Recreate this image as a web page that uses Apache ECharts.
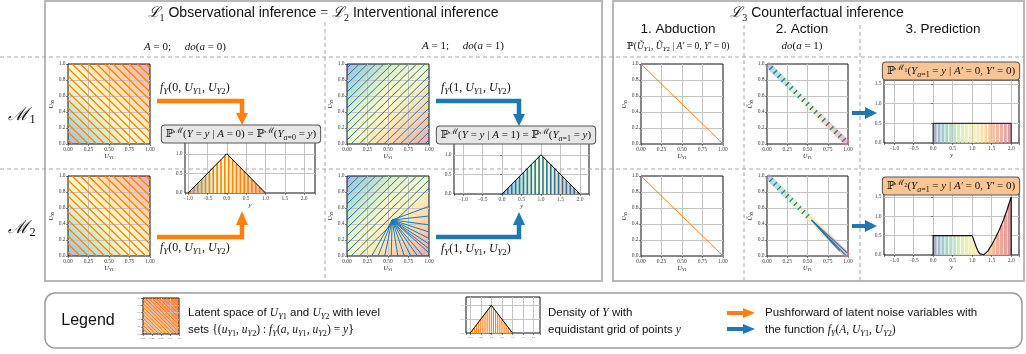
<!DOCTYPE html>
<html>
<head>
<meta charset="utf-8">
<script src="https://cdn.jsdelivr.net/npm/echarts@6/dist/echarts.min.js"></script>
<style>
  html, body { margin: 0; padding: 0; background: #fff; }
  #main { width: 1026px; height: 354px; }
</style>
</head>
<body>
<div id="main"></div>
<script>
// level values of the latent level sets
const levelsA0 = [0.05, 0.15, 0.25, 0.35, 0.45, 0.55, 0.65, 0.75, 0.85, 0.95, 1.05, 1.15, 1.25, 1.35, 1.45, 1.55, 1.65, 1.75, 1.85, 1.95]
const levelsA1 = [-0.95, -0.85, -0.75, -0.65, -0.55, -0.45, -0.35, -0.25, -0.15, -0.05, 0.05, 0.15, 0.25, 0.35, 0.45, 0.55, 0.65, 0.75, 0.85, 0.95]
const levelsA1M2 = [0.95, 0.85, 0.75, 0.65, 0.55, 0.45, 0.35, 0.25, 0.15, 0.05, -0.05, -0.15]
const fanCenter = [0.55, 0.45]
const fanEnds = [[1, 0.62], [1, 0.5], [1, 0.39], [1, 0.3], [1, 0.22], [1, 0.15], [1, 0.09], [1, 0.04],
  [0.3, 0], [0.38, 0], [0.46, 0], [0.54, 0], [0.62, 0], [0.7, 0], [0.78, 0], [0.86, 0], [0.93, 0]]

// densities
const gridYA0 = [-0.95, -0.85, -0.75, -0.65, -0.55, -0.45, -0.35, -0.25, -0.15, -0.05, 0.05, 0.15, 0.25, 0.35, 0.45, 0.55, 0.65, 0.75, 0.85, 0.95]
const densA0 = [0.05, 0.15, 0.25, 0.35, 0.45, 0.55, 0.65, 0.75, 0.85, 0.95, 0.95, 0.85, 0.75, 0.65, 0.55, 0.45, 0.35, 0.25, 0.15, 0.05]
const gridYA1 = [0.05, 0.15, 0.25, 0.35, 0.45, 0.55, 0.65, 0.75, 0.85, 0.95, 1.05, 1.15, 1.25, 1.35, 1.45, 1.55, 1.65, 1.75, 1.85, 1.95]
const densA1 = [0.05, 0.15, 0.25, 0.35, 0.45, 0.55, 0.65, 0.75, 0.85, 0.95, 0.95, 0.85, 0.75, 0.65, 0.55, 0.45, 0.35, 0.25, 0.15, 0.05]
const triangleA0 = [[-1, 0], [0, 1], [1, 0]]
const triangleA1 = [[0, 0], [1, 1], [2, 0]]

// counterfactual
const abductionLine = [[0, 1], [1, 0]]
const actionDashU1 = [0.05, 0.1, 0.15, 0.2, 0.25, 0.3, 0.35, 0.4, 0.45, 0.5, 0.55, 0.6, 0.65, 0.7, 0.75, 0.8, 0.85, 0.9, 0.95]
const actionDashU1M2 = [0.05, 0.1, 0.15, 0.2, 0.25, 0.3, 0.35, 0.4, 0.45, 0.5]
const actionFanEnds = [[0.97, 0.01], [0.99, 0.04], [0.9, 0.06], [0.84, 0.13], [0.76, 0.22]]
const predGrid = [0.05, 0.15, 0.25, 0.35, 0.45, 0.55, 0.65, 0.75, 0.85, 0.95, 1.05, 1.15, 1.25, 1.35, 1.45, 1.55, 1.65, 1.75, 1.85, 1.95]
const predM1 = [0.5, 0.5, 0.5, 0.5, 0.5, 0.5, 0.5, 0.5, 0.5, 0.5, 0.5, 0.5, 0.5, 0.5, 0.5, 0.5, 0.5, 0.5, 0.5, 0.5]
const predM2 = [0.5, 0.5, 0.5, 0.5, 0.5, 0.5, 0.5, 0.5, 0.5, 0.5, 0.36, 0.1, 0.0, 0.04, 0.17, 0.36, 0.56, 0.78, 1.03, 1.33]
const predM1Outline = [[0, 0], [0, 0.5], [2, 0.5], [2, 0]]
const predM2Outline = [[0, 0], [0, 0.5], [1, 0.5], [1.05, 0.36], [1.1, 0.22], [1.15, 0.1], [1.2, 0.03], [1.25, 0], [1.3, 0.01],
  [1.4, 0.1], [1.5, 0.26], [1.6, 0.45], [1.7, 0.66], [1.8, 0.9], [1.9, 1.18], [2, 1.5], [2, 0]]

const orange = '#ff7f0e'
const blue = '#1f77b4'
const serif = '"Liberation Serif", "DejaVu Serif", serif'
const sans = '"Liberation Sans", "DejaVu Sans", sans-serif'
const spectral = ['#adb6dc', '#b6dcd2', '#e2f1c8', '#fcf9c8', '#fde2b2', '#f9c7a8', '#e8a6b6']
const spectralStrong = ['#9590c6', '#8ccbbd', '#cbe8a8', '#f4f2a6', '#f9cf94', '#f1a088', '#d67f98']

function grad (x0, y0, x1, y1, colors) {
    return new echarts.graphic.LinearGradient(x0, y0, x1, y1,
        colors.map((c, i) => ({ offset: i / (colors.length - 1), color: c })))
}

const segsSum = cs => cs.map(c => c <= 1 ? [[0, c], [c, 0]] : [[c - 1, 1], [1, c - 1]])
const segsDiff = ds => ds.map(d => d >= 0 ? [[0, d], [1 - d, 1]] : [[-d, 0], [1, 1 + d]])
const dashSegs = us => us.map(u => [[u - 0.022, 1 - u - 0.022], [u + 0.022, 1 - u + 0.022]])

function rich (fs, lh) {
    const c = '#111'
    return {
        n: { fontFamily: serif, fontSize: fs, lineHeight: lh, fill: c, color: c },
        i: { fontFamily: serif, fontStyle: 'italic', fontSize: fs, lineHeight: lh, fill: c, color: c },
        t: { fontFamily: sans, fontSize: fs, lineHeight: lh, fill: c, color: c },
        L: { fontFamily: '"DejaVu Serif", serif', fontStyle: 'italic', fontSize: fs * 1.05, lineHeight: lh, fill: c, color: c },
        s: { fontFamily: serif, fontStyle: 'italic', fontSize: fs * 0.72, verticalAlign: 'bottom', fill: c, color: c },
        sn: { fontFamily: serif, fontSize: fs * 0.72, verticalAlign: 'bottom', fill: c, color: c },
        p: { fontFamily: '"DejaVu Serif", serif', fontSize: fs * 0.72, verticalAlign: 'top', fill: c, color: c },
        pn: { fontFamily: serif, fontSize: fs * 0.6, verticalAlign: 'top', padding: [3, 0, 0, 0], fill: c, color: c }
    }
}

// grid rectangles: latent(0-7), densities(8,9), predictions(10,11), legend(12,13)
const gridRects = [
    [68, 64, 82, 80], [68, 176, 82, 80], [347, 64, 82, 80], [347, 176, 82, 80],
    [641, 64, 82, 80], [767, 64, 81, 80], [641, 176, 82, 80], [767, 176, 81, 80],
    [185, 142, 130, 51], [454, 143, 135, 51],
    [884, 80, 135, 63], [884, 193, 135, 62],
    [143, 298, 36, 36], [466, 297, 74, 36]
]
const gridBg = [
    grad(0, 1, 1, 0, spectral), grad(0, 1, 1, 0, spectral), grad(0, 0, 1, 1, spectral), grad(0, 0, 1, 1, spectral),
    '#fff', '#fff', '#fff', '#fff', '#fff', '#fff', '#fff', '#fff',
    grad(0, 1, 1, 0, ['#cfd0c8', '#f9c596', '#f4a070', '#ea8a6a']), '#fff'
]

const fmt2 = v => v.toFixed(2)
const fmt1 = v => v.toFixed(1)
const fmtHalf = (lo, hi) => v => (v >= lo - 1e-6 && v <= hi + 1e-6 && Math.abs(v * 2 - Math.round(v * 2)) < 1e-6)
    ? v.toFixed(1).replace('-', '−') : ''

function axis (gi, min, max, interval, fmt, fs, name, isY) {
    const a = {
        type: 'value', gridIndex: gi, min: min, max: max,
        axisLine: { show: false },
        axisTick: { show: true, length: 2, lineStyle: { color: '#333', width: 0.6 } },
        axisLabel: { fontSize: fs, color: '#444', margin: 2.5, fontFamily: serif, formatter: fmt },
        splitLine: { show: true, showMinLine: false, showMaxLine: false, lineStyle: { color: '#c4c4c4', width: 1 } }
    }
    if (interval) a.interval = interval
    if (name) {
        a.name = name
        a.nameLocation = 'middle'
        a.nameGap = isY ? 13 : 9
        a.nameTextStyle = { fontSize: fs, color: '#444', rich: rich(fs + 0.5) }
        if (isY) a.nameRotate = 90
    }
    return a
}

const xAxes = []
const yAxes = []
const uX = '{i|U}{s|Y}{sn|1}'
const uY = '{i|U}{s|Y}{sn|2}'
const uYt = '{i|Ũ}{s|Y}{sn|2}'
for (let gi = 0; gi < 8; gi++) {
    const tilde = gi === 5 || gi === 7
    xAxes.push(axis(gi, 0, 1, 0.25, fmt2, 5.5, uX, false))
    yAxes.push(axis(gi, 0, 1, 0.2, fmt1, 5.5, tilde ? uYt : uY, true))
}
xAxes.push(axis(8, -1.08, 2.28, null, fmtHalf(-1, 2), 5.5, '{i|y}', false))
yAxes.push(axis(8, 0, 1.3, 0.5, fmtHalf(0, 1), 5.5))
xAxes.push(axis(9, -1.23, 2.23, null, fmtHalf(-1, 2), 5.5, '{i|y}', false))
yAxes.push(axis(9, 0, 1.3, 0.5, fmtHalf(0, 1), 5.5))
xAxes.push(axis(10, -1.26, 2.2, null, fmtHalf(-1, 2), 5.5, '{i|y}', false))
yAxes.push(axis(10, 0, 1.6, 0.5, fmtHalf(0, 1.5), 5.5))
xAxes.push(axis(11, -1.26, 2.2, null, fmtHalf(-1, 2), 5.5, '{i|y}', false))
yAxes.push(axis(11, 0, 1.6, 0.5, fmtHalf(0, 1.5), 5.5))
xAxes.push(axis(12, 0, 1, 0.25, fmt2, 2.5))
yAxes.push(axis(12, 0, 1, 0.2, fmt1, 2.5))
xAxes.push(axis(13, -1.2, 2.3, null, fmtHalf(-1, 2), 2.5))
yAxes.push(axis(13, 0, 1.3, 0.5, fmtHalf(0, 1), 2.5))

const series = []
function segLines (gi, segs, color, width) {
    series.push({
        type: 'lines', coordinateSystem: 'cartesian2d', xAxisIndex: gi, yAxisIndex: gi, silent: true, z: 3,
        lineStyle: { color: color, width: width, opacity: 1 }, data: segs.map(s => ({ coords: s }))
    })
}
function curve (gi, data, style, z, area) {
    const s = {
        type: 'line', xAxisIndex: gi, yAxisIndex: gi, data: data, symbol: 'none', silent: true, z: z,
        lineStyle: style, animation: false
    }
    if (area) s.areaStyle = area
    series.push(s)
}
function bars (gi, xs, hs, width, style, z) {
    series.push({
        type: 'bar', xAxisIndex: gi, yAxisIndex: gi, data: xs.map((x, i) => [x, hs[i]]),
        barWidth: width, itemStyle: style, silent: true, z: z
    })
    return series.length - 1
}

// latent spaces
segLines(0, segsSum(levelsA0), orange, 1.2)
segLines(1, segsSum(levelsA0), orange, 1.2)
segLines(2, segsDiff(levelsA1), blue, 1)
segLines(3, segsDiff(levelsA1M2).concat(fanEnds.map(e => [fanCenter, e])), blue, 1)
// abduction
curve(4, abductionLine, { color: orange, width: 1 }, 3)
curve(6, abductionLine, { color: orange, width: 1 }, 3)
// action
curve(5, abductionLine, { color: grad(0, 0, 1, 0, spectralStrong), width: 6, opacity: 0.55 }, 2)
segLines(5, dashSegs(actionDashU1), blue, 1.4)
curve(7, abductionLine, { color: grad(0, 0, 1, 0, spectralStrong), width: 6, opacity: 0.55 }, 2)
segLines(7, dashSegs(actionDashU1M2).concat(actionFanEnds.map(e => [fanCenter, e])), blue, 1.1)
// observational / interventional densities
curve(8, triangleA0, { width: 0 }, 2, { color: grad(0, 0, 1, 0, spectral), opacity: 1 })
bars(8, gridYA0, densA0, 1.6, { color: orange }, 3)
curve(8, triangleA0, { color: '#000', width: 1 }, 4)
curve(9, triangleA1, { width: 0 }, 2, { color: grad(0, 0, 1, 0, spectral), opacity: 1 })
bars(9, gridYA1, densA1, 1.6, { color: blue }, 3)
curve(9, triangleA1, { color: '#000', width: 1 }, 4)
// counterfactual predictions
const pb1 = bars(10, predGrid, predM1, 3, { opacity: 0.8 }, 3)
curve(10, predM1Outline, { color: '#333', width: 1.2 }, 4)
curve(11, predM2Outline, { width: 0 }, 2, { color: grad(0, 0, 1, 0, ['#fff', '#fff', '#fde6c6', '#f8d0b0']), opacity: 0.8 })
const pb2 = bars(11, predGrid, predM2, 3, { opacity: 0.8 }, 3)
curve(11, predM2Outline, { color: '#111', width: 1.2 }, 4)
// legend thumbnails
segLines(12, segsSum(levelsA0), orange, 1)
curve(13, triangleA0, { width: 0 }, 2, { color: orange, opacity: 1 })
bars(13, gridYA0, densA0, 0.8, { color: '#fff' }, 3)
curve(13, triangleA0, { color: '#000', width: 1 }, 4)

// annotations
const graphic = []
function txt (x, y, text, fs, lh, align, extra) {
    graphic.push({
        type: 'text', x: x, y: y, z: 100, silent: true,
        style: Object.assign({
            text: text, fontFamily: serif, fontSize: fs, fill: '#111',
            align: align || 'center', verticalAlign: 'middle', rich: rich(fs, lh)
        }, extra || {})
    })
}
function hline (x1, x2, y) {
    graphic.push({ type: 'line', z: 1, silent: true, shape: { x1: x1, y1: y, x2: x2, y2: y }, style: { stroke: '#a8a8a8', lineWidth: 1, lineDash: [4, 3] } })
}
function vline (x, y1, y2) {
    graphic.push({ type: 'line', z: 1, silent: true, shape: { x1: x, y1: y1, x2: x, y2: y2 }, style: { stroke: '#a8a8a8', lineWidth: 1, lineDash: [4, 3] } })
}
function arrow (color, pts, head, w) {
    graphic.push({ type: 'polyline', z: 90, silent: true, shape: { points: pts }, style: { stroke: color, lineWidth: w || 4.5, fill: null } })
    graphic.push({ type: 'polygon', z: 91, silent: true, shape: { points: head }, style: { fill: color } })
}

graphic.push({ type: 'rect', z: 1, silent: true, shape: { x: 45, y: 1, width: 557, height: 280 }, style: { fill: 'none', stroke: '#b8b8b8', lineWidth: 2 } })
graphic.push({ type: 'rect', z: 1, silent: true, shape: { x: 613, y: 1, width: 411, height: 280 }, style: { fill: 'none', stroke: '#b8b8b8', lineWidth: 2 } })
graphic.push({ type: 'rect', z: 1, silent: true, shape: { x: 45, y: 293, width: 977, height: 55, r: 10 }, style: { fill: 'none', stroke: '#9a9a9a', lineWidth: 1.5 } })
hline(0, 1024, 57)
hline(0, 1024, 169)
vline(325, 22, 281)
vline(744, 25, 281)
vline(860, 25, 281)

txt(323, 13, '{L|ℒ}{sn|1}{t| Observational inference }{n|=}{t| }{L|ℒ}{sn|2}{t| Interventional inference}', 14, 20)
txt(817, 13, '{L|ℒ}{sn|3}{t| Counterfactual inference}', 14, 20)
txt(678, 29, '{t|1. Abduction}', 13.5, 18)
txt(802, 29, '{t|2. Action}', 13.5, 18)
txt(943, 29, '{t|3. Prediction}', 13.5, 18)
txt(678, 46, '{n|ℙ(}{i|Ũ}{s|Y}{sn|1}{n|, }{i|Ũ}{s|Y}{sn|2}{n| | }{i|A′}{n| = 0, }{i|Y′}{n| = 0)}', 9.5, 13)
txt(802, 46, '{i|do}{n|(}{i|a}{n| = 1)}', 11, 14)
txt(185, 47, '{i|A}{n| = 0;     }{i|do}{n|(}{i|a}{n| = 0)}', 11, 14)
txt(463, 46, '{i|A}{n| = 1;     }{i|do}{n|(}{i|a}{n| = 1)}', 11, 14)
txt(22, 115, '{L|ℳ}{sn|1}', 17, 22)
txt(22, 228, '{L|ℳ}{sn|2}', 17, 22)

const fY0 = '{i|f}{s|Y}{n|(0, }{i|U}{s|Y}{sn|1}{n|, }{i|U}{s|Y}{sn|2}{n|)}'
const fY1 = '{i|f}{s|Y}{n|(1, }{i|U}{s|Y}{sn|1}{n|, }{i|U}{s|Y}{sn|2}{n|)}'
txt(160, 88, fY0, 12, 16, 'left')
txt(160, 248, fY0, 12, 16, 'left')
txt(441, 88, fY1, 12, 16, 'left')
txt(441, 249, fY1, 12, 16, 'left')

arrow(orange, [[157, 101], [242, 101], [242, 115]], [[236, 113], [248, 113], [242, 125]])
arrow(orange, [[157, 237], [242, 237], [242, 224]], [[236, 225], [248, 225], [242, 211]])
arrow(blue, [[436, 101], [519, 101], [519, 115]], [[513, 114], [525, 114], [519, 126]])
arrow(blue, [[436, 237], [519, 237], [519, 224]], [[513, 225], [525, 225], [519, 212]])
arrow(blue, [[852, 113], [867, 113]], [[865, 107], [877, 113], [865, 119]], 4)
arrow(blue, [[852, 226], [867, 226]], [[865, 220], [877, 226], [865, 232]], 4)

const boxGray = { backgroundColor: '#e6e6e6', borderColor: '#555', borderWidth: 1, borderRadius: 3, padding: [1, 4] }
const boxOrange = { backgroundColor: '#fac593', borderColor: '#555', borderWidth: 1, borderRadius: 3, padding: [1, 4] }
txt(241, 134, '{n|ℙ}{p|ℳ}{n|(}{i|Y}{n| = }{i|y}{n| | }{i|A}{n| = 0) = ℙ}{p|ℳ}{n|(}{i|Y}{s|a}{sn|=0}{n| = }{i|y}{n|)}', 11, 15, 'center', boxGray)
txt(516, 135, '{n|ℙ}{p|ℳ}{n|(}{i|Y}{n| = }{i|y}{n| | }{i|A}{n| = 1) = ℙ}{p|ℳ}{n|(}{i|Y}{s|a}{sn|=1}{n| = }{i|y}{n|)}', 11, 15, 'center', boxGray)
txt(951, 71, '{n|ℙ}{p|ℳ}{pn|1}{n|(}{i|Y}{s|a}{sn|=1}{n| = }{i|y}{n| | }{i|A′}{n| = 0, }{i|Y′}{n| = 0)}', 11, 15, 'center', boxOrange)
txt(951, 186, '{n|ℙ}{p|ℳ}{pn|2}{n|(}{i|Y}{s|a}{sn|=1}{n| = }{i|y}{n| | }{i|A′}{n| = 0, }{i|Y′}{n| = 0)}', 11, 15, 'center', boxOrange)

// legend
txt(88, 321, '{t|Legend}', 16, 20)
txt(188, 313, '{t|Latent space of }{i|U}{s|Y}{sn|1}{t| and }{i|U}{s|Y}{sn|2}{t| with level}', 11.5, 15, 'left')
txt(188, 330, '{t|sets }{n|{(}{i|u}{s|Y}{sn|1}{n|, }{i|u}{s|Y}{sn|2}{n|) : }{i|f}{s|Y}{n|(}{i|a}{n|, }{i|u}{s|Y}{sn|1}{n|, }{i|u}{s|Y}{sn|2}{n|) = }{i|y}}', 11.5, 15, 'left', { fontSize: 13 })
txt(548, 313, '{t|Density of }{i|Y}{t| with}', 11.5, 15, 'left')
txt(548, 330, '{t|equidistant grid of points }{i|y}', 11.5, 15, 'left')
txt(765, 313, '{t|Pushforward of latent noise variables with}', 11.5, 15, 'left')
txt(765, 330, '{t|the function }{i|f}{s|Y}{n|(}{i|A}{n|, }{i|U}{s|Y}{sn|1}{n|, }{i|U}{s|Y}{sn|2}{n|)}', 11.5, 15, 'left')
arrow(orange, [[727, 313], [745, 313]], [[743, 308], [755, 313], [743, 318]], 4)
arrow(blue, [[727, 329], [745, 329]], [[743, 324], [755, 329], [743, 334]], 4)

const option = {
    animation: false,
    grid: gridRects.map((r, i) => ({
        left: r[0], top: r[1], width: r[2], height: r[3], show: true,
        backgroundColor: gridBg[i], borderColor: '#111', borderWidth: 1,
        containLabel: false, outerBoundsMode: 'none'
    })),
    xAxis: xAxes,
    yAxis: yAxes,
    visualMap: [{
        type: 'continuous', show: false, dimension: 0, min: 0, max: 2,
        seriesIndex: [pb1, pb2], inRange: { color: spectralStrong }
    }],
    graphic: graphic,
    series: series
}

const chart = echarts.init(document.getElementById('main'), null, { renderer: 'canvas' })
chart.setOption(option)
</script>
</body>
</html>
